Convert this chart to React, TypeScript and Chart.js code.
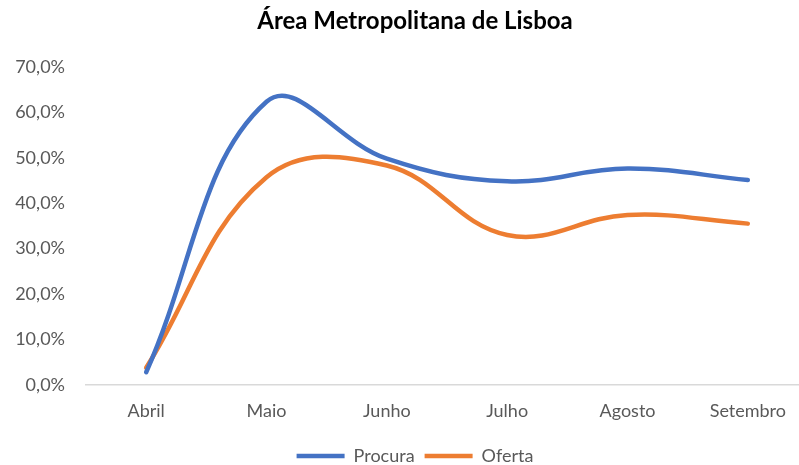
import React, { useEffect, useRef } from "react";
import { Chart, registerables } from "chart.js";

Chart.register(...registerables);

const title = "Área Metropolitana de Lisboa";
const categories = ["Abril", "Maio", "Junho", "Julho", "Agosto", "Setembro"];
const procura = [0.028, 0.623, 0.498, 0.448, 0.476, 0.451];
const oferta = [0.038, 0.457, 0.483, 0.33, 0.374, 0.355];
const yTicks = [0, 0.1, 0.2, 0.3, 0.4, 0.5, 0.6, 0.7];

const fmt = (v: number) => (v * 100).toFixed(1).replace(".", ",") + "%";

export default function App() {
  const ref = useRef<HTMLCanvasElement>(null);
  useEffect(() => {
    if (!ref.current) return;
    const font = { family: "Lato", size: 18 };
    const chart = new Chart(ref.current, {
      type: "line",
      data: {
        labels: categories,
        datasets: [
          {
            label: "Procura",
            data: procura,
            borderColor: "#4472C4",
            backgroundColor: "#4472C4",
            borderWidth: 4.5,
            borderCapStyle: "round",
            pointRadius: 0,
            tension: 0.4,
          },
          {
            label: "Oferta",
            data: oferta,
            borderColor: "#ED7D31",
            backgroundColor: "#ED7D31",
            borderWidth: 4.5,
            borderCapStyle: "round",
            pointRadius: 0,
            tension: 0.4,
          },
        ],
      },
      options: {
        responsive: false,
        animation: false,
        devicePixelRatio: 1,
        layout: { padding: 0 },
        plugins: {
          title: {
            display: true,
            text: title,
            color: "#000",
            font: { family: "Lato", size: 24, weight: "bold" },
            padding: { top: 7, bottom: 31 },
          },
          legend: {
            position: "bottom",
            labels: {
              usePointStyle: true,
              pointStyle: "line",
              pointStyleWidth: 48,
              color: "#595959",
              font,
              padding: 10,
            },
          },
          tooltip: { enabled: false },
        },
        scales: {
          x: {
            offset: true,
            grid: { display: false, offset: true, drawTicks: false },
            border: { display: true, color: "#d9d9d9", width: 1.5 },
            ticks: { color: "#595959", font, padding: 15, maxRotation: 0, autoSkip: false },
            afterFit: (s: any) => {
              s.height = 52;
            },
          },
          y: {
            min: 0,
            max: 0.7,
            grid: { display: false, drawTicks: false },
            border: { display: false },
            afterFit: (s: any) => {
              s.width = 86;
            },
            afterBuildTicks: (s: any) => {
              s.ticks = yTicks.map((v) => ({ value: v }));
            },
            ticks: {
              color: "#595959",
              font,
              padding: 21,
              callback: (v: any) => fmt(Number(v)),
            },
          },
          yr: {
            position: "right",
            display: true,
            grid: { display: false, drawTicks: false },
            border: { display: false },
            ticks: { display: false },
            afterFit: (s: any) => {
              s.width = 22;
            },
          },
        },
      },
    });
    return () => chart.destroy();
  }, []);
  return (
    <div
      style={{
        position: "absolute",
        left: 0,
        top: 0,
        width: 799,
        height: 465,
        overflow: "hidden",
        background: "#fff",
      }}
    >
      <canvas ref={ref} width={830} height={475} />
    </div>
  );
}
